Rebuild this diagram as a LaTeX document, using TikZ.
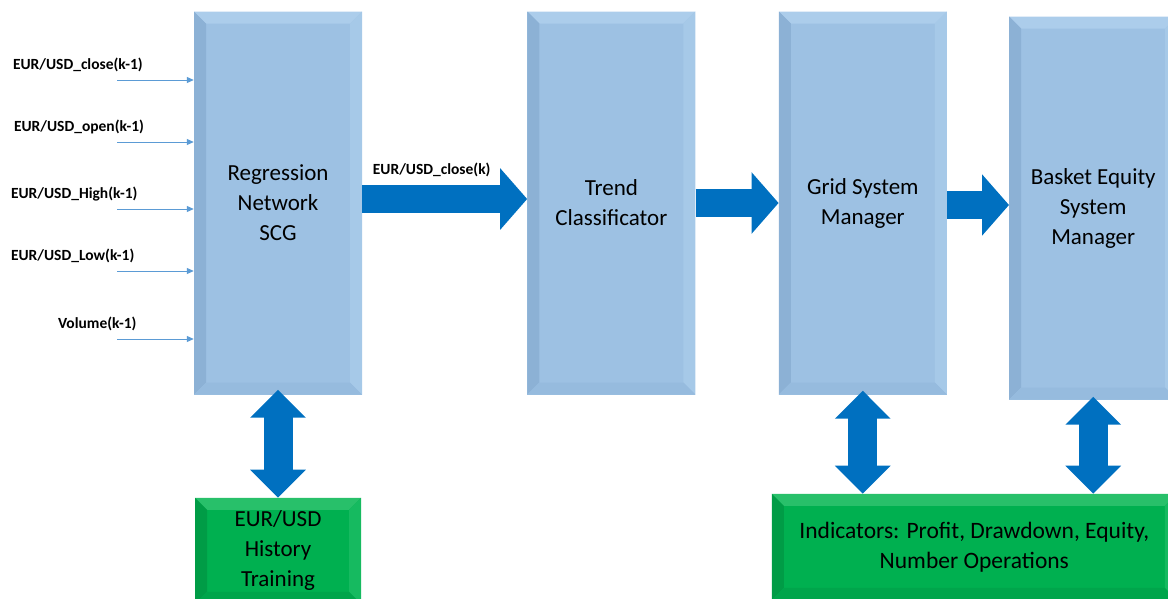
\documentclass[tikz,border=0pt]{standalone}
\usepackage{fontspec}
\setmainfont{Carlito}
\usetikzlibrary{positioning, arrows.meta}

\definecolor{boxblue}{RGB}{157,193,227}
\definecolor{boxtop}{RGB}{172,205,235}
\definecolor{boxleft}{RGB}{140,177,213}
\definecolor{boxright}{RGB}{166,201,232}
\definecolor{boxlow}{RGB}{150,187,222}
\definecolor{trgreen}{RGB}{0,176,80}
\definecolor{trtop}{RGB}{40,192,106}
\definecolor{trleft}{RGB}{0,156,70}
\definecolor{trright}{RGB}{22,186,96}
\definecolor{trlow}{RGB}{0,165,75}
\definecolor{fatblue}{RGB}{0,112,192}
\definecolor{inblue}{RGB}{91,155,213}

\tikzset{
    bevel/.style n args={4}{path picture={
        \fill[#1] (path picture bounding box.north west) -- (path picture bounding box.north east)
            -- ([shift={(-12pt,-12pt)}]path picture bounding box.north east)
            -- ([shift={(12pt,-12pt)}]path picture bounding box.north west) -- cycle;
        \fill[#2] (path picture bounding box.north west) -- (path picture bounding box.south west)
            -- ([shift={(12pt,12pt)}]path picture bounding box.south west)
            -- ([shift={(12pt,-12pt)}]path picture bounding box.north west) -- cycle;
        \fill[#3] (path picture bounding box.north east) -- (path picture bounding box.south east)
            -- ([shift={(-12pt,12pt)}]path picture bounding box.south east)
            -- ([shift={(-12pt,-12pt)}]path picture bounding box.north east) -- cycle;
        \fill[#4] (path picture bounding box.south west) -- (path picture bounding box.south east)
            -- ([shift={(-12pt,12pt)}]path picture bounding box.south east)
            -- ([shift={(12pt,12pt)}]path picture bounding box.south west) -- cycle;
    }},
    block/.style={rectangle, fill=boxblue, minimum width=168pt, minimum height=383pt,
        inner sep=0pt, align=center, font=\fontsize{23}{30}\selectfont,
        bevel={boxtop}{boxleft}{boxright}{boxlow}},
    train/.style={block, fill=trgreen, minimum width=166pt, minimum height=106pt,
        bevel={trtop}{trleft}{trright}{trlow}},
    inlabel/.style={inner sep=0pt, outer sep=0pt, text=black,
        font=\bfseries\fontsize{15.5}{18}\selectfont},
    inarrow/.style={inblue, line width=1pt, -{Triangle[length=7pt, width=6pt]}},
    fatarrow/.style={fatblue, line width=28pt, -{Triangle[length=27pt, width=60pt]}},
    dblarrow/.style={fatblue, line width=29pt,
        {Triangle[length=28pt, width=54pt]}-{Triangle[length=28pt, width=54pt]}},
}

\begin{document}
\begin{tikzpicture}[x=1pt, y=-1pt]
    \clip (0,0) rectangle (1168,598);
    % blocks
    \node[block] (reg) at (278,203) {Regression\\Network\\SCG};
    \node[block, right=165pt of reg] (trend) {Trend\\Classificator};
    \node[block, right=83pt of trend] (grid) {Grid System\\Manager};
    \node[block, right=62pt of grid, yshift=-5pt] (basket) {Basket Equity\\System\\Manager};

    % training, indicators
    \node[train, below=103pt of reg] (hist) {EUR/USD\\History\\Training};
    \node[train, minimum width=405pt, anchor=north west, font=\fontsize{23.5}{30}\selectfont] (ind)
        at ([shift={(-7pt,-99pt)}]grid.south west) {Indicators: Profit, Drawdown, Equity,\\Number Operations};

    % inputs
    \foreach \i/\lx/\ly/\txt in {1/13/80/{EUR/USD\_close(k-1)}, 2/14/142/{EUR/USD\_open(k-1)},
            3/11/209/{EUR/USD\_High(k-1)}, 4/11/271/{EUR/USD\_Low(k-1)}, 5/58/339/{Volume(k-1)}}{
        \node[inlabel, anchor=west] (lab\i) at (\lx,\ly-15) {\txt};
        \coordinate (in\i) at (117,\ly);
        \draw[inarrow] (in\i) -- (in\i -| reg.west);
    }

    % flow
    \draw[fatarrow] ([yshift=4pt]reg.east) -- ([yshift=4pt]reg.east -| trend.west)
        node[inlabel, midway, above=22pt, xshift=-13pt] (out) {EUR/USD\_close(k)};
    \draw[fatarrow] (trend.east) -- (trend.east -| grid.west);
    \draw[fatarrow] ([yshift=-2pt]grid.east) -- ([yshift=-2pt]grid.east -| basket.west);

    \draw[dblarrow] ([yshift=5pt]reg.south) -- (hist.north);
    \draw[dblarrow] ([yshift=4pt]grid.south) -- (grid.south |- ind.north);
    \draw[dblarrow] ([yshift=3pt]basket.south) -- (basket.south |- ind.north);
\end{tikzpicture}
\end{document}
